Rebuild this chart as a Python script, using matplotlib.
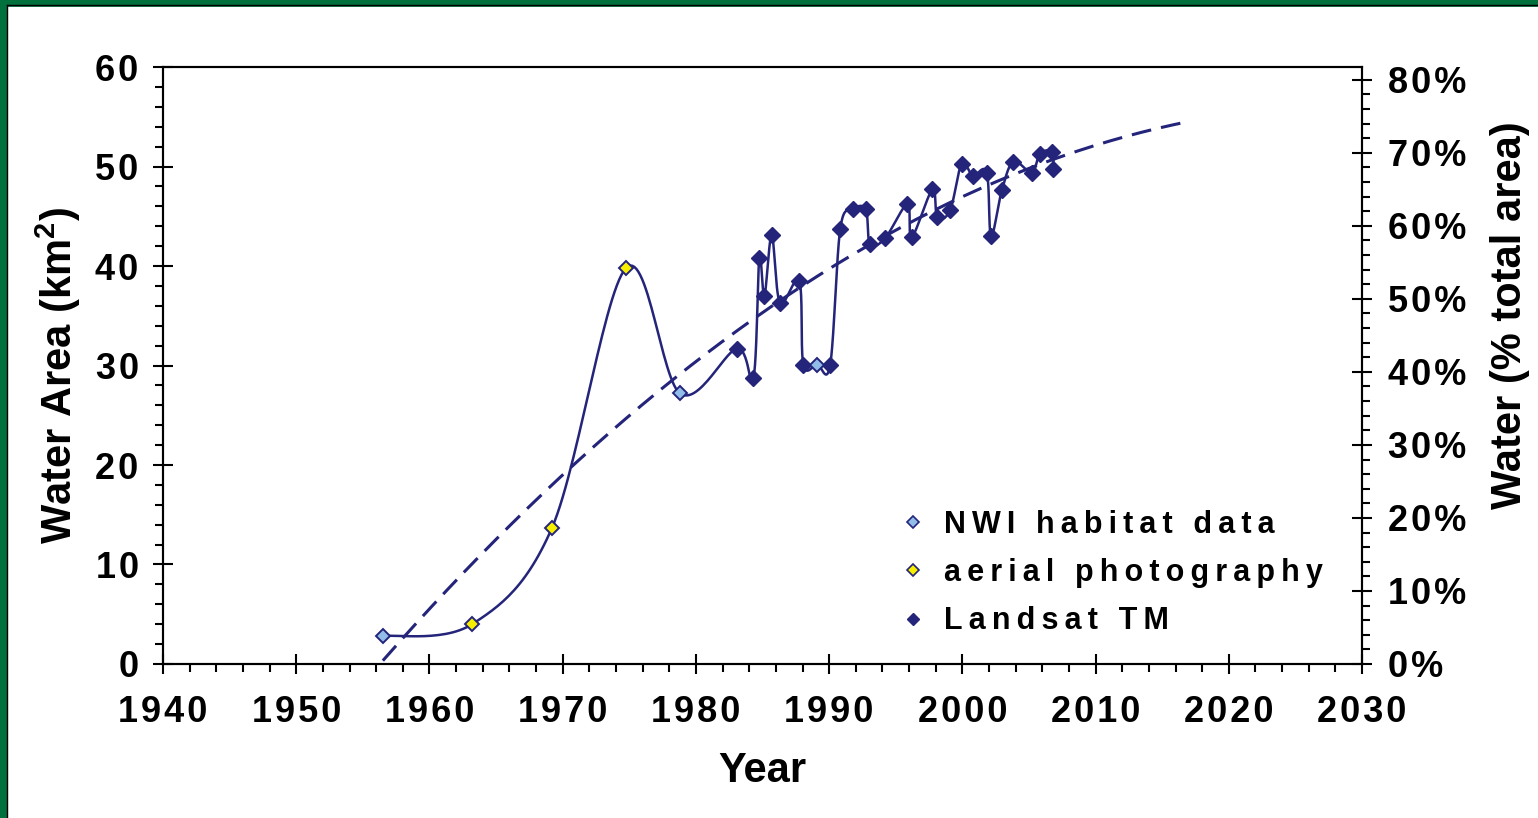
import numpy as np
import matplotlib
matplotlib.use("Agg")
import matplotlib.pyplot as plt
from matplotlib.ticker import MultipleLocator, FuncFormatter
from matplotlib.lines import Line2D

plt.rcParams['font.family'] = ['Liberation Sans', 'DejaVu Sans']
plt.rcParams['font.weight'] = 'bold'
plt.rcParams['mathtext.default'] = 'regular'

# water area (km2), by data source
nwi_years = [1956.5, 1978.8, 1989.1]
nwi_area = [2.8, 27.2, 30.1]

aerial_years = [1963.2, 1969.2, 1974.75]
aerial_area = [4.0, 13.7, 39.8]

landsat_years = [1983.07, 1984.31, 1984.76, 1985.14, 1985.69, 1986.31, 1987.76,
                 1988.06, 1990.08, 1990.83, 1991.77, 1992.75, 1993.07, 1994.20,
                 1995.87, 1996.20, 1997.75, 1998.12, 1999.08, 1999.95, 2000.78,
                 2001.83, 2002.15, 2002.96, 2003.83, 2005.21, 2005.83, 2006.73,
                 2006.83]
landsat_area = [31.7, 28.7, 40.8, 37.0, 43.1, 36.3, 38.5,
                30.1, 30.1, 43.7, 45.7, 45.7, 42.2, 42.8,
                46.2, 42.9, 47.7, 44.9, 45.6, 50.3, 49.1,
                49.4, 43.0, 47.6, 50.5, 49.4, 51.3, 51.5,
                49.8]

legend_labels = ['NWI habitat data', 'aerial photography', 'Landsat TM']

total_area_km2 = 73.4   # 80% on the right axis sits at ~58.7 km2
forecast_years = 10

navy = '#23247a'
HAIR = '\u200a'
THIN = '\u2009'


def spaced(s, sp):
    # the original uses loose letter spacing
    return sp.join(s)


def smooth_line(x, y, n=30):
    # excel style smoothed line: cubic bezier, tangents from neighbours / 6
    x = np.asarray(x, float)
    y = np.asarray(y, float)
    px, py = [], []
    for i in range(len(x) - 1):
        i0 = max(i - 1, 0)
        i3 = min(i + 2, len(x) - 1)
        c1x = x[i] + (x[i + 1] - x[i0]) / 6
        c1y = y[i] + (y[i + 1] - y[i0]) / 6
        c2x = x[i + 1] - (x[i3] - x[i]) / 6
        c2y = y[i + 1] - (y[i3] - y[i]) / 6
        t = np.linspace(0, 1, n)
        a, b, c, d = (1 - t) ** 3, 3 * t * (1 - t) ** 2, 3 * t ** 2 * (1 - t), t ** 3
        px.extend(a * x[i] + b * c1x + c * c2x + d * x[i + 1])
        py.extend(a * y[i] + b * c1y + c * c2y + d * y[i + 1])
    return px, py


all_years = np.array(nwi_years + aerial_years + landsat_years)
all_area = np.array(nwi_area + aerial_area + landsat_area)
order = np.argsort(all_years)
all_years = all_years[order]
all_area = all_area[order]

fig = plt.figure(figsize=(15.38, 8.18), dpi=100)
ax = fig.add_axes([0.106, 0.1883, 0.7796, 0.7297])

# second order polynomial trend, carried forward
coef = np.polyfit(all_years, all_area, 2)
tx = np.linspace(all_years[0], all_years[-1] + forecast_years, 200)
ax.plot(tx, np.polyval(coef, tx), color=navy, lw=2.2, ls=(0, (6.5, 3.3)), zorder=2)

sx, sy = smooth_line(all_years, all_area)
ax.plot(sx, sy, color=navy, lw=1.8, zorder=3)

ax.plot(landsat_years, landsat_area, 'D', ms=8.5, mfc=navy, mec=navy, zorder=4)
ax.plot(nwi_years, nwi_area, 'D', ms=7, mfc='#92bde9', mec=navy, mew=1.4, zorder=5)
ax.plot(aerial_years, aerial_area, 'D', ms=7, mfc='#f7ef00', mec=navy, mew=1.4, zorder=5)

ax.set_xlim(1940, 2030)
ax.set_ylim(0, 60)
ax.xaxis.set_major_locator(MultipleLocator(10))
ax.xaxis.set_minor_locator(MultipleLocator(2))
ax.yaxis.set_major_locator(MultipleLocator(10))
ax.yaxis.set_minor_locator(MultipleLocator(2))
ax.xaxis.set_major_formatter(FuncFormatter(lambda v, p: spaced('%d' % round(v), HAIR)))
ax.yaxis.set_major_formatter(FuncFormatter(lambda v, p: spaced('%d' % round(v), HAIR)))
ax.tick_params(which='major', direction='inout', length=15, width=1.5, labelsize=26, pad=10)
ax.tick_params(which='minor', direction='out', length=6, width=1.5)
ax.tick_params(axis='x', which='major', pad=15)

ax2 = ax.twinx()
ax2.set_ylim(0, 60 / total_area_km2 * 100)
ax2.yaxis.set_major_locator(MultipleLocator(10))
ax2.yaxis.set_minor_locator(MultipleLocator(2))
ax2.yaxis.set_major_formatter(FuncFormatter(lambda v, p: spaced('%d%%' % round(v), HAIR)))
ax2.tick_params(which='major', direction='inout', length=15, width=1.5, labelsize=26, pad=11)
ax2.tick_params(which='minor', direction='out', length=6, width=1.5)

for a in (ax, ax2):
    for s in a.spines.values():
        s.set_linewidth(1.5)

ax.set_xlabel('Year', fontsize=30, fontweight='bold')
ax.set_ylabel('Water Area (km$^2$)', fontsize=30, fontweight='bold')
ax2.set_ylabel('Water (% total area)', fontsize=30, fontweight='bold')
ax.xaxis.set_label_coords(0.5, -0.145)
ax.yaxis.set_label_coords(-0.067, 0.484)
ax2.yaxis.set_label_coords(1.1068, 0.585)

handles = [
    Line2D([], [], ls='none', marker='D', ms=6, mfc='#92bde9', mec=navy, mew=1.2),
    Line2D([], [], ls='none', marker='D', ms=6, mfc='#f7ef00', mec=navy, mew=1.2),
    Line2D([], [], ls='none', marker='D', ms=6, mfc=navy, mec=navy),
]
ax.legend(handles, [spaced(s, THIN) for s in legend_labels],
          loc='lower left', bbox_to_anchor=(0.59, 0.0), frameon=False,
          fontsize=22, handlelength=1.0, handletextpad=0.5, labelspacing=0.6)

# green frame of the original slide
green = '#00703c'
fig.add_artist(Line2D([0.002, 0.002], [0, 1], color=green, lw=7, transform=fig.transFigure))
fig.add_artist(Line2D([0, 1], [0.997, 0.997], color=green, lw=7, transform=fig.transFigure))
fig.add_artist(Line2D([0.0045, 0.0045], [0, 0.9935], color='black', lw=1, transform=fig.transFigure))
fig.add_artist(Line2D([0.0045, 1], [0.9935, 0.9935], color='black', lw=1, transform=fig.transFigure))

fig.savefig('out.png', dpi=100)
